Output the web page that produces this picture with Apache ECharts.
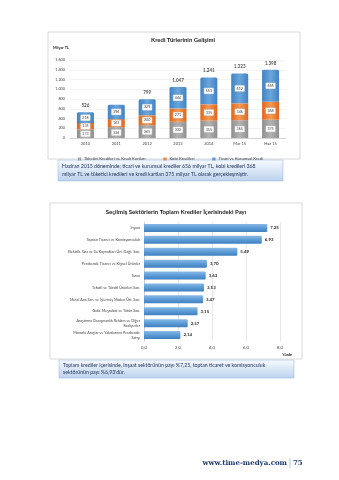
<!DOCTYPE html>
<html><head><meta charset="utf-8">
<script src="https://cdn.jsdelivr.net/npm/echarts@6/dist/echarts.min.js"></script>
<style>html,body{margin:0;padding:0;background:#fff}#c{width:339px;height:480px}</style>
</head><body><div id="c"></div>
<script>
// ---- Chart 1 data: Kredi Türlerinin Gelişimi (Milyar TL)
const years = ['2010','2011','2012','2013','2014','Mar 15','Haz 15'];
const tuketici = [173, 224, 265, 332, 355, 365, 375];
const kobi = [135, 163, 200, 271, 335, 346, 368];
const ticari = [218, 296, 329, 444, 551, 612, 656];
const totals = [526, null, 799, 1047, 1241, 1323, 1398];
const yTicks1 = ['0','200','400','600','800','1.000','1.200','1.400','1.600'];
const seriesNames1 = ['Tüketici Kredileri ve Kredi Kartları','Kobi Kredileri','Ticari ve Kurumsal Kredi'];

// ---- Chart 2 data: Seçilmiş Sektörlerin Toplam Krediler İçerisindeki Payı (Yüzde)
const sectors = ['İnşaat','Toptan Ticaret ve Komisyonculuk','Elektrik, Gaz ve Su Kaynakları Ürt. Dağt. San.','Perakende Ticaret ve Kişisel Ürünler','Tarım','Tekstil ve Tekstil Ürünleri San.','Metal Ana San. ve İşlenmiş Maden Ürt. San.','Gıda, Meşrubat ve Tütün San.','Araştırma Danışmanlık Reklam ve Diğer\nFaaliyetler','Motorlu Araçlar ve Yakıtlarının Perakende\nSatışı'];
const shares = [7.25, 6.93, 5.49, 3.70, 3.63, 3.53, 3.47, 3.15, 2.57, 2.14];

const FONT = 'Lato, "Open Sans", sans-serif';
const chart = echarts.init(document.getElementById('c'));
const fmtDot = v => String(v).replace(/\B(?=(\d{3})+(?!\d))/g, '.');
const segLabel = {show:true, position:'inside', fontSize:3.6, color:'#404040', fontFamily:FONT,
  backgroundColor:'#fff', borderColor:'#c8c8c8', borderWidth:0.4, padding:[1,1.5,0.6,1.5]};
function vgrad(a,b){return new echarts.graphic.LinearGradient(0,0,1,0,[{offset:0,color:a},{offset:0.5,color:b},{offset:1,color:a}]);}

const option = {
  animation:false,
  textStyle:{fontFamily:FONT},
  graphic:[
    {type:'rect', shape:{x:48,y:32,width:252,height:127}, style:{fill:'#fff',stroke:'#c9c9c9',lineWidth:0.7}, z:-10},
    {type:'text', x:183, y:40, style:{text:'Kredi Türlerinin Gelişimi', fill:'#1a1a1a', font:'bold 6px '+FONT, align:'center', verticalAlign:'middle'}},
    {type:'text', x:53, y:48, style:{text:'Milyar TL', fill:'#1a1a1a', font:'bold 3.8px '+FONT, verticalAlign:'middle'}},
    {type:'rect', shape:{x:58,y:160,width:225,height:21}, style:{fill:new echarts.graphic.LinearGradient(0,0,0,1,[{offset:0,color:'#f7fafe'},{offset:1,color:'#bcd2ee'}]), stroke:'#8fb0dc', lineWidth:0.5}, z:-5},
    {type:'text', x:62, y:166, style:{text:'Haziran 2015 döneminde; ticari ve kurumsal krediler 656 milyar TL, kobi kredileri 368', fill:'#1f2f55', font:'5.2px '+FONT, verticalAlign:'middle'}},
    {type:'text', x:62, y:174, style:{text:'milyar TL ve tüketici kredileri ve kredi kartları 375 milyar TL olarak gerçekleşmiştir.', fill:'#1f2f55', font:'5.2px '+FONT, verticalAlign:'middle'}},

    {type:'rect', shape:{x:50,y:203,width:252,height:156}, style:{fill:'#fff',stroke:'#c9c9c9',lineWidth:0.7}, z:-10},
    {type:'text', x:176, y:212, style:{text:'Seçilmiş Sektörlerin Toplam Krediler İçerisindeki Payı', fill:'#1a1a1a', font:'bold 6px '+FONT, align:'center', verticalAlign:'middle'}},
    {type:'text', x:292, y:355, style:{text:'Yüzde', fill:'#1a1a1a', font:'bold 3.6px '+FONT, align:'right', verticalAlign:'middle'}},
    {type:'rect', shape:{x:59,y:360,width:235,height:18}, style:{fill:new echarts.graphic.LinearGradient(0,0,0,1,[{offset:0,color:'#f7fafe'},{offset:1,color:'#bcd2ee'}]), stroke:'#8fb0dc', lineWidth:0.5}, z:-5},
    {type:'text', x:63, y:365, style:{text:'Toplam krediler içerisinde, inşaat sektörünün payı %7,25, toptan ticaret ve komisyonculuk', fill:'#1f2f55', font:'5.2px '+FONT, verticalAlign:'middle'}},
    {type:'text', x:63, y:372.5, style:{text:"sektörünün payı %6,93'dür.", fill:'#1f2f55', font:'5.2px '+FONT, verticalAlign:'middle'}},

    {type:'text', x:287, y:463, style:{text:'www.time-medya.com', fill:'#1f3a6e', font:'bold 7px "DejaVu Serif", "Liberation Serif", serif', align:'right', verticalAlign:'middle'}},
    {type:'line', shape:{x1:290,y1:458,x2:290,y2:468}, style:{stroke:'#8aa0c0',lineWidth:0.6}},
    {type:'text', x:293, y:463, style:{text:'75', fill:'#1f3a6e', font:'bold 7px "DejaVu Serif", "Liberation Serif", serif', verticalAlign:'middle'}}
  ],
  legend:{
    data:seriesNames1, left:73, top:152, itemWidth:3, itemHeight:3, itemGap:18, icon:'rect',
    textStyle:{fontSize:4.2, color:'#404040', fontFamily:FONT, padding:[0,0,0,-2]}
  },
  grid:[
    {left:70, right:53, top:60, bottom:342},
    {left:144, right:59, top:222, bottom:139}
  ],
  xAxis:[
    {type:'category', gridIndex:0, data:years, axisTick:{show:false}, axisLine:{lineStyle:{color:'#bfbfbf',width:0.6}},
     axisLabel:{fontSize:4, color:'#404040', margin:4}},
    {type:'value', gridIndex:1, min:0, max:8, interval:2, axisLine:{show:false}, axisTick:{show:false},
     splitLine:{lineStyle:{color:'#d9d9d9',width:0.6}},
     axisLabel:{fontSize:4.2, color:'#404040', margin:5, formatter:v=>v.toFixed(1).replace('.',',')}}
  ],
  yAxis:[
    {type:'value', gridIndex:0, min:0, max:1600, interval:200, axisLine:{show:false}, axisTick:{show:false},
     splitLine:{lineStyle:{color:'#e6e6e6',width:0.5}},
     axisLabel:{fontSize:3.8, color:'#404040', margin:5, formatter:v=>yTicks1[Math.round(v/200)]}},
    {type:'category', gridIndex:1, data:sectors, inverse:true, axisTick:{show:false},
     axisLine:{lineStyle:{color:'#bfbfbf',width:0.6}},
     axisLabel:{fontSize:3.7, color:'#404040', margin:4, lineHeight:5, align:'right'}}
  ],
  series:[
    {name:seriesNames1[0], type:'bar', stack:'k', xAxisIndex:0, yAxisIndex:0, data:tuketici, barWidth:17,
     itemStyle:{color:vgrad('#8f8f8f','#b3b3b3')}, label:segLabel},
    {name:seriesNames1[1], type:'bar', stack:'k', xAxisIndex:0, yAxisIndex:0, data:kobi,
     itemStyle:{color:vgrad('#e0661a','#f59a55')}, label:segLabel},
    {name:seriesNames1[2], type:'bar', stack:'k', xAxisIndex:0, yAxisIndex:0, data:ticari,
     itemStyle:{color:vgrad('#4282c4','#6aa6dc'), borderRadius:[1.5,1.5,0,0]}, label:segLabel},
    {name:'Toplam', type:'scatter', xAxisIndex:0, yAxisIndex:0, data:totals, symbolSize:0,
     label:{show:true, position:'top', distance:4, fontSize:4.6, fontWeight:'bold', color:'#262626',
       formatter:p=>p.value==null?'':fmtDot(p.value)}},
    {name:'Pay', type:'bar', xAxisIndex:1, yAxisIndex:1, data:shares, barWidth:8,
     itemStyle:{color:new echarts.graphic.LinearGradient(0,0,0,1,[{offset:0,color:'#8ab9e6'},{offset:0.5,color:'#5b9bd5'},{offset:1,color:'#3f7fc0'}]), borderRadius:[0,1,1,0]},
     label:{show:true, position:'right', distance:3, fontSize:4.4, fontWeight:'bold', color:'#262626',
       formatter:p=>p.value.toFixed(2).replace('.',',')}}
  ]
};
chart.setOption(option);
</script></body></html>
